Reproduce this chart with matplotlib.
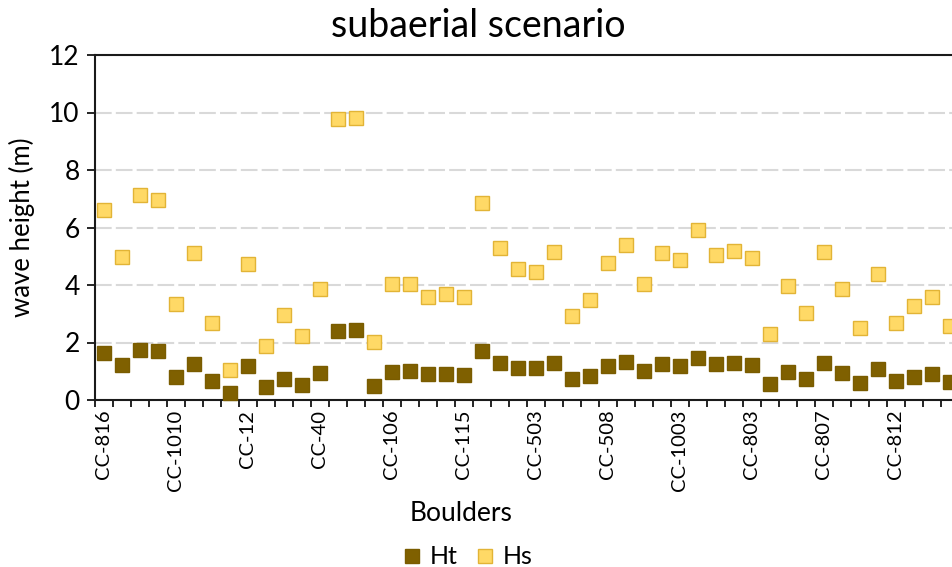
import matplotlib.pyplot as plt
import numpy as np

plt.rcParams['font.family'] = ['Lato', 'DejaVu Sans']

# boulder names shown on the axis (every fourth boulder)
shown_labels = ['CC-816', 'CC-1010', 'CC-12', 'CC-40', 'CC-106', 'CC-115',
                'CC-503', 'CC-508', 'CC-1003', 'CC-803', 'CC-807', 'CC-812']

# tsunami wave height (m)
ht = [1.65, 1.22, 1.74, 1.70, 0.81, 1.25, 0.66, 0.23, 1.17, 0.44, 0.72, 0.52,
      0.95, 2.41, 2.43, 0.50, 0.99, 1.01, 0.89, 0.90, 0.87, 1.70, 1.30, 1.12,
      1.10, 1.28, 0.72, 0.85, 1.18, 1.33, 1.01, 1.25, 1.19, 1.45, 1.24, 1.28,
      1.21, 0.57, 0.97, 0.73, 1.29, 0.95, 0.60, 1.08, 0.66, 0.80, 0.89, 0.63]

# storm wave height (m)
hs = [6.61, 4.99, 7.13, 6.96, 3.34, 5.12, 2.67, 1.04, 4.72, 1.89, 2.94, 2.23,
      3.87, 9.76, 9.82, 2.03, 4.05, 4.05, 3.58, 3.69, 3.57, 6.86, 5.28, 4.56,
      4.45, 5.15, 2.91, 3.48, 4.77, 5.39, 4.02, 5.10, 4.87, 5.90, 5.03, 5.19,
      4.93, 2.28, 3.98, 3.04, 5.15, 3.86, 2.52, 4.39, 2.69, 3.26, 3.58, 2.59]

n = len(ht)
x = np.arange(n)

fig = plt.figure(figsize=(9.53, 5.67), dpi=100)
# axes run slightly past the right edge of the figure
ax = fig.add_axes([95 / 953, 1 - 400 / 567, 864 / 953, 345 / 567])

ax.plot(x, ht, 's', ms=10.5, mfc='#7F6000', mec='#7A5C00', mew=1, label='Ht',
        zorder=3, clip_on=False)
ax.plot(x, hs, 's', ms=10.5, mfc='#FFD966', mec='#E2B436', mew=1, label='Hs',
        zorder=3, clip_on=False)

ax.set_xlim(-0.5, n - 0.5)
ax.set_ylim(0, 12)
ax.set_yticks(range(0, 13, 2))
ax.yaxis.grid(True, color='#D9D9D9', lw=1.5, dashes=(8, 2))
ax.set_axisbelow(True)

ax.set_xticks(x[::4])
ax.set_xticklabels(shown_labels, rotation=90, fontsize=14.5)
ax.set_xticks(np.arange(n + 1) - 0.5, minor=True)
ax.tick_params(axis='x', which='major', length=0, pad=7)
ax.tick_params(axis='x', which='minor', length=5, width=1.2, direction='out')
ax.tick_params(axis='y', length=6, width=1.2, labelsize=19, pad=5)

for side in ['left', 'bottom', 'top']:
    ax.spines[side].set_color('#1a1a1a')
    ax.spines[side].set_linewidth(1.5)
ax.spines['right'].set_visible(False)

ax.set_ylabel('wave height (m)', fontsize=18.5, labelpad=10)
ax.set_xlabel('Boulders', fontsize=19, va='center')
ax.xaxis.set_label_coords(0.424, -0.33)
ax.set_title('subaerial scenario', fontsize=27, x=0.444, pad=13)

fig.legend(loc='center', bbox_to_anchor=(0.488, 0.018), ncol=2, frameon=False,
           fontsize=18, handletextpad=0.1, columnspacing=0.5,
           handlelength=1.2, markerscale=0.95)

fig.savefig('out.png', dpi=100)
